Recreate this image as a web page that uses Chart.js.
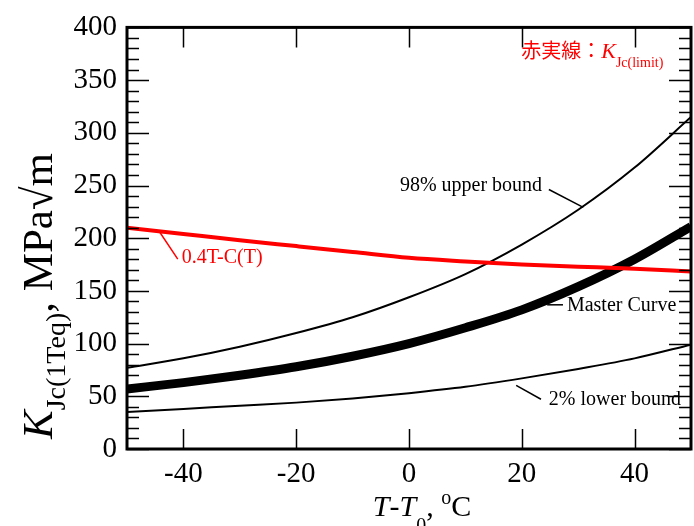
<!DOCTYPE html>
<html>
<head>
<meta charset="utf-8">
<script src="https://cdn.jsdelivr.net/npm/chart.js@4/dist/chart.umd.min.js"></script>
<style>
  body { margin: 0; background: #fff; }
  canvas { display: block; }
</style>
</head>
<body>
<canvas id="myChart" width="694" height="526"></canvas>
<script>
// T - T0 (degC)
const temps = [-50, -40, -30, -20, -10, 0, 10, 20, 30, 40, 50];
// K values, MPa sqrt(m)
const masterCurve = [57, 63, 70, 78, 88, 100, 115, 132, 154, 180, 211];
const upperBound = [77, 86, 97, 110, 125, 144, 166, 194, 227, 267, 315];
const lowerBound = [35, 38, 41, 44, 48, 53, 59, 67, 76, 86, 99];
const kLimit = [210, 204, 198, 192.5, 187, 181.5, 178, 175, 173, 171, 168.5];

const xTicks = [-40, -20, 0, 20, 40];
const yTicks = [0, 50, 100, 150, 200, 250, 300, 350, 400];
const yMinorStep = 10;

const FONT = "'Liberation Serif', 'Times New Roman', serif";
const CJK = "'Liberation Serif', 'Noto Sans CJK JP', serif";

// labels with leader lines, in data units
const notes = [
  { text: '0.4T-C(T)', color: 'red', line: [-44.3, 206.6, -41.0, 180.2], x: -40.3, y: 181, align: 'left' },
  { text: '98% upper bound', color: 'black', line: [24.8, 246.2, 30.9, 229.2], x: 23.6, y: 250, align: 'right' },
  { text: 'Master Curve', color: 'black', line: [24.5, 136.8, 27.3, 136.8], x: 28.0, y: 136, align: 'left' },
  { text: '2% lower bound', color: 'black', line: [19.0, 60.4, 23.4, 47.2], x: 24.8, y: 47, align: 'left' }
];

function toPoints(ys) {
  return temps.map((t, i) => ({ x: t, y: ys[i] }));
}

// draw a run of text pieces [text, font, dy] left to right from x
function drawPieces(ctx, pieces, x, y) {
  pieces.forEach(p => {
    ctx.font = p[1];
    ctx.fillText(p[0], x, y + (p[2] || 0));
    x += ctx.measureText(p[0]).width;
  });
}
function piecesWidth(ctx, pieces) {
  let w = 0;
  pieces.forEach(p => { ctx.font = p[1]; w += ctx.measureText(p[0]).width; });
  return w;
}

const framePlugin = {
  id: 'frame',
  afterDatasetsDraw(chart) {
    const { ctx, chartArea: a, scales: { x, y } } = chart;
    ctx.save();
    ctx.strokeStyle = '#000';
    // ticks pointing inward on all four sides
    ctx.lineWidth = 1.5;
    ctx.beginPath();
    for (let v = 0; v <= 400; v += yMinorStep) {
      const py = Math.round(y.getPixelForValue(v)) + 0.5;
      const len = v % 50 === 0 ? 22 : 12;
      ctx.moveTo(a.left, py); ctx.lineTo(a.left + len, py);
      ctx.moveTo(a.right, py); ctx.lineTo(a.right - len, py);
    }
    xTicks.forEach(v => {
      const px = Math.round(x.getPixelForValue(v)) + 0.5;
      ctx.moveTo(px, a.bottom); ctx.lineTo(px, a.bottom - 20);
      ctx.moveTo(px, a.top); ctx.lineTo(px, a.top + 20);
    });
    ctx.stroke();
    ctx.lineWidth = 3;
    ctx.strokeRect(a.left, a.top, a.right - a.left, a.bottom - a.top);

    // annotations
    ctx.textBaseline = 'middle';
    notes.forEach(n => {
      ctx.strokeStyle = n.color;
      ctx.fillStyle = n.color;
      ctx.lineWidth = 1.5;
      ctx.beginPath();
      ctx.moveTo(x.getPixelForValue(n.line[0]), y.getPixelForValue(n.line[1]));
      ctx.lineTo(x.getPixelForValue(n.line[2]), y.getPixelForValue(n.line[3]));
      ctx.stroke();
      ctx.font = '20px ' + FONT;
      ctx.textAlign = n.align;
      ctx.fillText(n.text, x.getPixelForValue(n.x), y.getPixelForValue(n.y));
    });

    // red legend note
    ctx.textAlign = 'left';
    ctx.textBaseline = 'alphabetic';
    ctx.fillStyle = 'red';
    drawPieces(ctx, [
      ['赤実線：', '20px ' + CJK],
      ['K', 'italic 22px ' + FONT],
      ['Jc(limit)', '14px ' + FONT, 9]
    ], x.getPixelForValue(19.9), y.getPixelForValue(378) + 7);

    // axis titles
    ctx.fillStyle = '#000';
    const xt = [
      ['T', 'italic 30px ' + FONT],
      ['-', '30px ' + FONT],
      ['T', 'italic 30px ' + FONT],
      ['0', '20px ' + FONT, 16],
      [', ', '30px ' + FONT],
      ['o', '20px ' + FONT, -12],
      ['C', '30px ' + FONT]
    ];
    drawPieces(ctx, xt, 422 - piecesWidth(ctx, xt) / 2, 516);

    const yt = [
      ['K', 'italic 43px ' + FONT],
      ['Jc(1Teq)', '28px ' + FONT, 13],
      [', MPa√m', '43px ' + FONT]
    ];
    ctx.translate(52, 296);
    ctx.rotate(-Math.PI / 2);
    drawPieces(ctx, yt, -piecesWidth(ctx, yt) / 2, 0);
    ctx.restore();
  }
};

const ctx = document.getElementById('myChart').getContext('2d');
const myChart = new Chart(ctx, {
  type: 'line',
  data: {
    datasets: [
      { data: toPoints(kLimit), borderColor: 'red', borderWidth: 4 },
      { data: toPoints(upperBound), borderColor: '#000', borderWidth: 2 },
      { data: toPoints(masterCurve), borderColor: '#000', borderWidth: 9 },
      { data: toPoints(lowerBound), borderColor: '#000', borderWidth: 2 }
    ]
  },
  options: {
    responsive: false,
    animation: false,
    layout: { padding: { top: 25, right: 3, left: 0, bottom: 0 } },
    elements: {
      point: { radius: 0 },
      line: { cubicInterpolationMode: 'monotone', fill: false, borderCapStyle: 'butt' }
    },
    plugins: { legend: { display: false }, tooltip: { enabled: false } },
    scales: {
      x: {
        type: 'linear',
        min: -50,
        max: 50,
        afterBuildTicks: s => { s.ticks = xTicks.map(v => ({ value: v })); },
        afterFit: s => { s.height = 77; },
        grid: { display: false, drawTicks: false },
        border: { display: false },
        ticks: { padding: 8, color: '#000', font: { family: FONT, size: 29 }, maxRotation: 0 }
      },
      y: {
        type: 'linear',
        min: 0,
        max: 400,
        afterBuildTicks: s => { s.ticks = yTicks.map(v => ({ value: v })); },
        afterFit: s => { s.width = 127; },
        grid: { display: false, drawTicks: false },
        border: { display: false },
        ticks: { padding: 10, color: '#000', font: { family: FONT, size: 29 } }
      }
    }
  },
  plugins: [framePlugin]
});
</script>
</body>
</html>
